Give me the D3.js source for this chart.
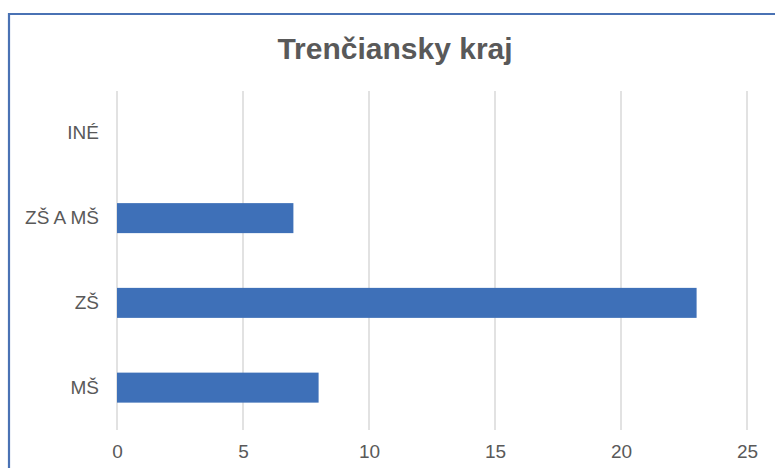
<!DOCTYPE html>
<html>
<head>
<meta charset="utf-8">
<script src="https://cdn.jsdelivr.net/npm/d3@7"></script>
<style>
  body { margin: 0; background: #fff; }
  svg { display: block; font-family: "Liberation Sans", Arial, sans-serif; }
</style>
</head>
<body>
<div id="graph"></div>
<script>
var categories = ["INÉ", "ZŠ A MŠ", "ZŠ", "MŠ"];
var values = [0, 7, 23, 8];
var xTicks = [0, 5, 10, 15, 20, 25];
var title = "Trenčiansky kraj";

var width = 775, height = 468;

var svg = d3.select("#graph").append("svg")
    .attr("width", width)
    .attr("height", height);

// chart frame (runs off right and bottom edge)
svg.append("path")
    .attr("d", "M9,480 L9,14 L790,14")
    .attr("fill", "none")
    .attr("stroke", "#4a72b4")
    .attr("stroke-width", 2.2);

svg.append("text")
    .attr("x", 395)
    .attr("y", 59)
    .attr("text-anchor", "middle")
    .attr("font-size", 30)
    .attr("font-weight", "bold")
    .attr("fill", "#595959")
    .text(title);

var xScale = d3.scaleLinear().domain([0, 25]).range([117, 747]);
var yScale = d3.scaleBand().domain(categories).range([91, 430]).paddingInner(0.646).paddingOuter(0.323);

// gridlines
svg.selectAll(".grid")
    .data(xTicks)
    .enter()
    .append("line")
    .attr("class", "grid")
    .attr("x1", function(d) { return xScale(d); })
    .attr("x2", function(d) { return xScale(d); })
    .attr("y1", 91)
    .attr("y2", 430)
    .attr("stroke", "#d9d9d9")
    .attr("stroke-width", 1.5);

svg.selectAll(".bar")
    .data(values)
    .enter()
    .append("rect")
    .attr("class", "bar")
    .attr("x", xScale(0))
    .attr("y", function(d, i) { return yScale(categories[i]); })
    .attr("width", function(d) { return xScale(d) - xScale(0); })
    .attr("height", yScale.bandwidth())
    .attr("fill", "#3e70b8");

var xAxis = d3.axisBottom(xScale).tickValues(xTicks).tickSize(0).tickPadding(15);
var xG = svg.append("g")
    .attr("transform", "translate(0,430)")
    .call(xAxis);
xG.select(".domain").remove();
xG.selectAll("text").attr("font-size", 19).attr("fill", "#595959")
    .attr("font-family", "Liberation Sans, Arial, sans-serif");

var yAxis = d3.axisLeft(yScale).tickSize(0).tickPadding(18);
var yG = svg.append("g")
    .attr("transform", "translate(117,0)")
    .call(yAxis);
yG.select(".domain").remove();
yG.selectAll("text").attr("font-size", 19).attr("fill", "#595959")
    .attr("font-family", "Liberation Sans, Arial, sans-serif");
</script>
</body>
</html>
